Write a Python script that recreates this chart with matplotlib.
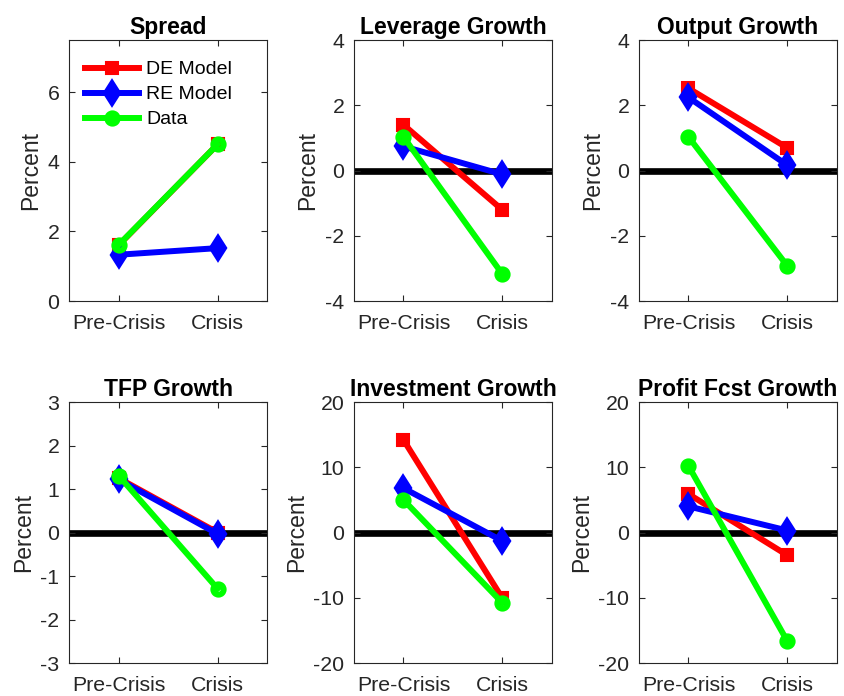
import numpy as np
import matplotlib.pyplot as plt

plt.rcParams['font.family'] = ['Liberation Sans', 'DejaVu Sans']
plt.rcParams['axes.unicode_minus'] = False

periods = ['Pre-Crisis', 'Crisis']
titles = ['Spread', 'Leverage Growth', 'Output Growth',
          'TFP Growth', 'Investment Growth', 'Profit Fcst Growth']

# pre-crisis / crisis values per panel
de_model = [[1.60, 4.50], [1.40, -1.21], [2.52, 0.69],
            [1.25, 0.00], [14.2, -10.1], [5.9, -3.5]]
re_model = [[1.33, 1.52], [0.74, -0.12], [2.24, 0.16],
            [1.22, -0.03], [6.8, -1.3], [4.0, 0.3]]
data = [[1.61, 4.50], [1.03, -3.18], [1.03, -2.93],
        [1.31, -1.29], [5.0, -10.8], [10.2, -16.7]]

ylims = [(0, 7.5), (-4, 4), (-4, 4), (-3, 3), (-20, 20), (-20, 20)]
yticks = [[0, 2, 4, 6], [-4, -2, 0, 2, 4], [-4, -2, 0, 2, 4],
          [-3, -2, -1, 0, 1, 2, 3], [-20, -10, 0, 10, 20], [-20, -10, 0, 10, 20]]

fig = plt.figure(figsize=(8.44, 6.96), dpi=100)
lefts = [0.0818, 0.4194, 0.7571]
bottoms = [0.5675, 0.0474]
w, h = 0.2346, 0.375

axc = '#262626'
lw = 4.3
x = np.array([1, 2])
for k in range(6):
    r, c = divmod(k, 3)
    ax = fig.add_axes([lefts[c], bottoms[r], w, h])
    if k > 0:
        ax.axhline(0, color='k', lw=4.8, zorder=1)
    ax.plot(x, de_model[k], color='#ff0000', lw=lw, marker='s', ms=8,
            mfc='#ff0000', mec='#ff0000', mew=1.5, label='DE Model', zorder=2)
    ax.plot(x, re_model[k], color='#0000ff', lw=lw, marker='d', ms=11.5,
            mfc='#0000ff', mec='#0000ff', mew=3, label='RE Model', zorder=3)
    ax.plot(x, data[k], color='#00ff00', lw=lw, marker='o', ms=7.5,
            mfc='none', mec='#00ff00', mew=4.2, label='Data', zorder=4)
    ax.set_xlim(0.5, 2.5)
    ax.set_ylim(*ylims[k])
    ax.set_xticks(x)
    ax.set_xticklabels(periods)
    ax.set_yticks(yticks[k])
    ax.set_title(titles[k], fontsize=16.5, fontweight='bold', pad=4)
    ax.set_ylabel('Percent', fontsize=16.5, color=axc, labelpad=4)
    ax.tick_params(direction='in', length=4, width=0.8, labelsize=15.3,
                   colors=axc, top=True, right=True)
    ax.tick_params(axis='x', pad=9)
    ax.tick_params(axis='y', pad=7)
    for s in ax.spines.values():
        s.set_color(axc)
        s.set_linewidth(0.8)
    if k == 0:
        ax.legend(loc='upper left', bbox_to_anchor=(0.02, 0.965), frameon=False,
                  fontsize=14, handlelength=2.8, handletextpad=0.35,
                  labelspacing=0.38, borderaxespad=0.2)

fig.savefig('out.png', dpi=100)
